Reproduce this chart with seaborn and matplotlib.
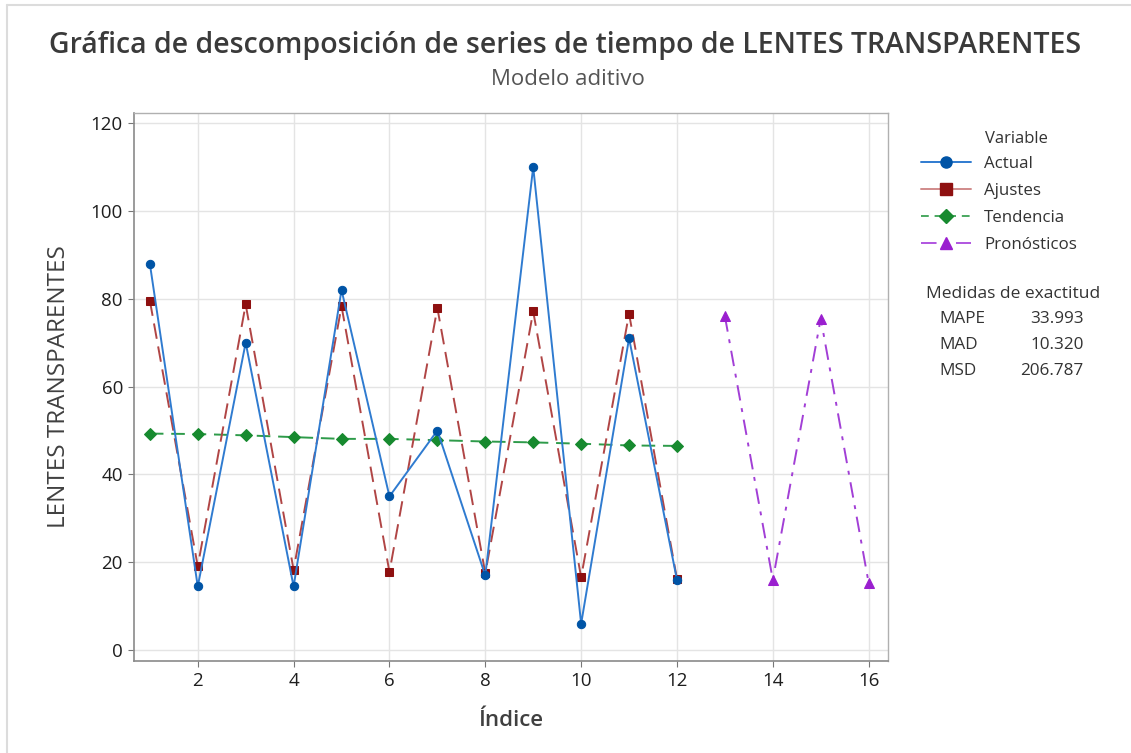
import matplotlib
matplotlib.use("Agg")
import matplotlib.pyplot as plt
import seaborn as sns
import pandas as pd
from matplotlib.lines import Line2D

# Observed series and decomposition components
indice = list(range(1, 13))
actual = [88, 14.5, 70, 14.5, 82, 35, 50, 17, 110, 6, 71, 16]
ajustes = [79.6, 19.1, 78.7, 18.3, 78.3, 17.8, 77.9, 17.5, 77.1, 16.6, 76.6, 16.2]
tendencia = [49.3, 49.2, 48.9, 48.5, 48.1, 48.1, 47.8, 47.5, 47.3, 47.0, 46.6, 46.5]

indice_pron = [13, 14, 15, 16]
pronosticos = [76.0, 16.0, 75.5, 15.3]

series_nombres = ["Actual", "Ajustes", "Tendencia", "Pronósticos"]
medidas = ["MAPE", "MAD", "MSD"]
medidas_val = ["33.993", "10.320", "206.787"]

sns.set_theme(style="whitegrid")
plt.rcParams["font.family"] = ["Open Sans", "DejaVu Sans"]

fig = plt.figure(figsize=(11.31, 7.53), dpi=100)
ax = fig.add_axes([0.1185, 0.122, 0.6665, 0.728])

c_act_line, c_act_mk = "#2f7bd0", "#0054a6"
c_aj_line, c_aj_mk = "#b04545", "#8e1010"
c_td_line, c_td_mk = "#2e9b4a", "#178a2f"
c_pr_line, c_pr_mk = "#a23fd6", "#9a1fcf"

df_a = pd.DataFrame({"x": indice, "y": actual})
df_f = pd.DataFrame({"x": indice, "y": ajustes})
df_t = pd.DataFrame({"x": indice, "y": tendencia})
df_p = pd.DataFrame({"x": indice_pron, "y": pronosticos})

sns.lineplot(data=df_t, x="x", y="y", ax=ax, color=c_td_line, lw=1.4,
             marker="D", markersize=5.8, markerfacecolor=c_td_mk, markeredgecolor=c_td_mk,
             zorder=2)
ax.lines[-1].set_dashes([7, 4])
sns.lineplot(data=df_f, x="x", y="y", ax=ax, color=c_aj_line, lw=1.4,
             marker="s", markersize=6.3, markerfacecolor=c_aj_mk, markeredgecolor=c_aj_mk,
             zorder=3)
ax.lines[-1].set_dashes([8, 4])
sns.lineplot(data=df_a, x="x", y="y", ax=ax, color=c_act_line, lw=1.4,
             marker="o", markersize=6, markerfacecolor=c_act_mk, markeredgecolor=c_act_mk,
             zorder=4)
sns.lineplot(data=df_p, x="x", y="y", ax=ax, color=c_pr_line, lw=1.4,
             marker="^", markersize=7, markerfacecolor=c_pr_mk, markeredgecolor=c_pr_mk,
             zorder=3)
ax.lines[-1].set_dashes([8, 4, 2, 4])

ax.set_xlim(0.67, 16.4)
ax.set_ylim(-2.5, 122.3)
ax.set_xticks([2, 4, 6, 8, 10, 12, 14, 16])
ax.set_yticks([0, 20, 40, 60, 80, 100, 120])
ax.grid(True, color="#e4e4e4", lw=1.0)
ax.tick_params(axis="both", which="major", labelsize=13.5, colors="#777777",
               length=4, width=0.8, direction="out", pad=4)
for lbl in ax.get_xticklabels() + ax.get_yticklabels():
    lbl.set_color("#1e1e1e")
ax.xaxis.set_ticks_position("bottom")
ax.yaxis.set_ticks_position("left")
for side in ["left", "bottom"]:
    ax.spines[side].set_color("#8a8a8a")
    ax.spines[side].set_linewidth(1.2)
for side in ["top", "right"]:
    ax.spines[side].set_color("#b0b0b0")
    ax.spines[side].set_linewidth(1.0)

ax.set_xlabel("Índice", fontsize=16, color="#404040", fontweight="semibold", labelpad=14)
ax.set_ylabel("LENTES TRANSPARENTES", fontsize=17.5, color="#404040", labelpad=14)

fig.text(0.5, 0.94, "Gráfica de descomposición de series de tiempo de LENTES TRANSPARENTES",
         ha="center", va="center", fontsize=20.5, fontweight="semibold", color="#3a3a3a")
fig.text(0.502, 0.894, "Modelo aditivo", ha="center", va="center", fontsize=16, color="#555555")

handles = [
    Line2D([], [], color=c_act_line, lw=1.4, marker="o", markersize=8,
           markerfacecolor=c_act_mk, markeredgecolor=c_act_mk),
    Line2D([], [], color="#d08a8a", lw=1.4, marker="s", markersize=8,
           markerfacecolor=c_aj_mk, markeredgecolor=c_aj_mk),
    Line2D([], [], color="#4aa860", lw=1.4, marker="D", markersize=7, dashes=[4, 3],
           markerfacecolor=c_td_mk, markeredgecolor=c_td_mk),
    Line2D([], [], color="#b055e0", lw=1.4, marker="^", markersize=8, dashes=[8, 4, 2, 4],
           markerfacecolor=c_pr_mk, markeredgecolor=c_pr_mk),
]
leg = fig.legend(handles, series_nombres,
                 loc="upper left", bbox_to_anchor=(0.808, 0.802),
                 frameon=False, fontsize=12.2, handlelength=3.0,
                 labelspacing=0.66, handletextpad=0.75, borderaxespad=0)
for t in leg.get_texts():
    t.set_color("#333333")
fig.text(0.871, 0.816, "Variable", ha="left", va="center", fontsize=12, color="#333333")

fig.text(0.819, 0.610, "Medidas de exactitud", ha="left", va="center", fontsize=12.5, color="#333333")
for i, (m, v) in enumerate(zip(medidas, medidas_val)):
    yy = 0.576 - i * 0.0345
    fig.text(0.831, yy, m, ha="left", va="center", fontsize=12.3, color="#333333")
    fig.text(0.958, yy, v, ha="right", va="center", fontsize=12.3, color="#333333")

# Outer frame lines
fig.add_artist(Line2D([0.006, 0.006], [0.0, 0.993], color="#dcdcdc", lw=1.5,
                      transform=fig.transFigure))
fig.add_artist(Line2D([0.006, 1.0], [0.993, 0.993], color="#dcdcdc", lw=1.5,
                      transform=fig.transFigure))

fig.savefig("out.png", dpi=100, facecolor="white")
